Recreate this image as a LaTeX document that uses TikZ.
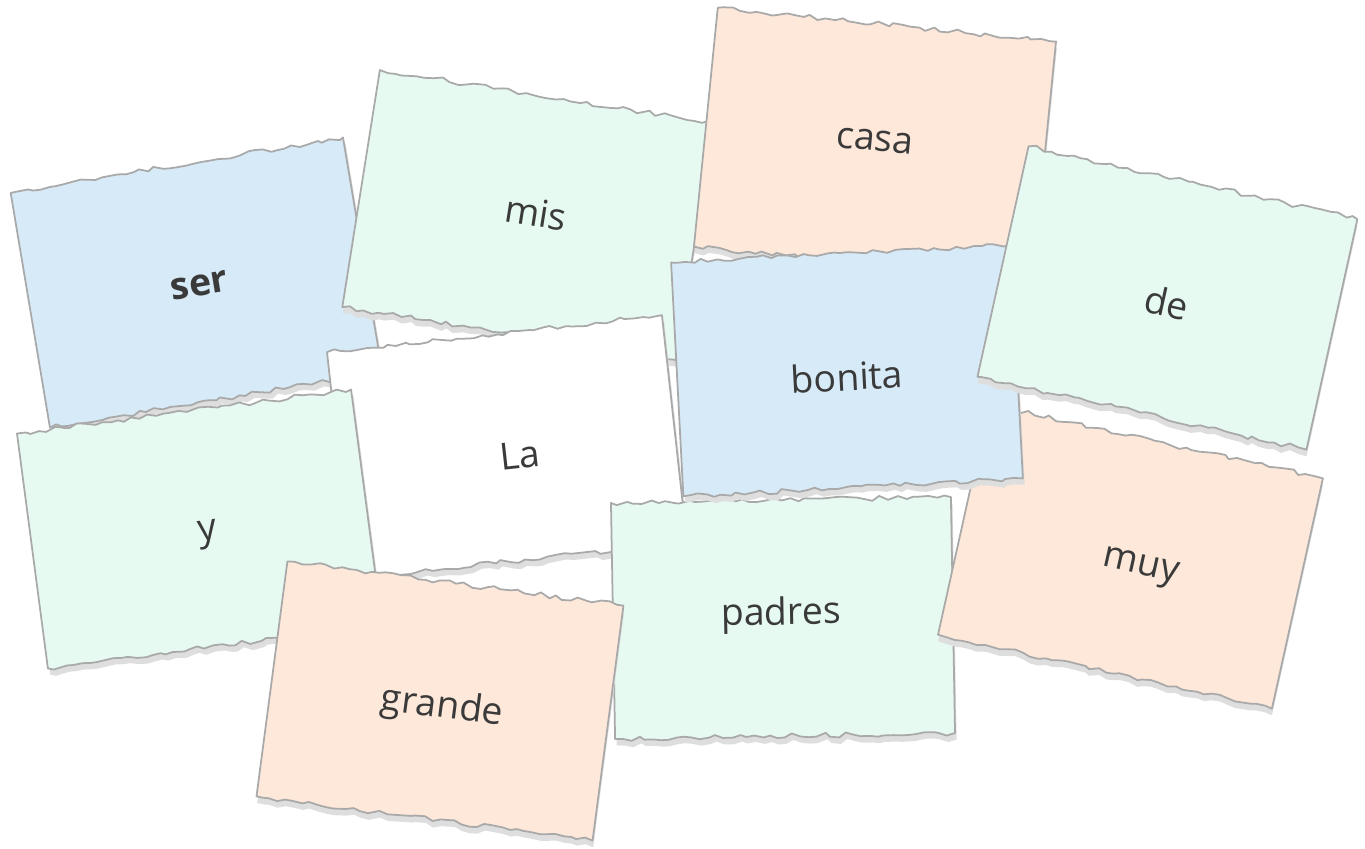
\documentclass[tikz,border=0pt]{standalone}
\usepackage{fontspec}
\setmainfont{Open Sans}
\usepackage{tikz}
\usetikzlibrary{decorations.pathmorphing}

\definecolor{cardblue}{HTML}{D6EAF7}
\definecolor{cardgreen}{HTML}{E6FAF2}
\definecolor{cardpeach}{HTML}{FDE8DA}
\definecolor{edgegray}{HTML}{A9A9A9}
\definecolor{inkgray}{HTML}{3A3A3A}

\newcounter{tornseed}
% name, x, y, angle, width, height, fill, word, word shift
\newcommand{\papercard}[9]{%
  \stepcounter{tornseed}%
  \begin{scope}[shift={(#2,#3)}, rotate=#4]
    \pgfmathsetmacro{\hw}{#5/2}
    \pgfmathsetmacro{\hh}{#6/2}
    \pgfmathsetseed{\number\value{tornseed}}
    \fill[cardshadow, shift={(0.015,-0.065)}] (-\hw,-\hh) -- (-\hw,\hh) decorate[torn] {-- (\hw,\hh)} -- (\hw,-\hh) decorate[torn] {-- (-\hw,-\hh)} -- cycle;
    \pgfmathsetseed{\number\value{tornseed}}
    \filldraw[cardedge, fill=#7] (-\hw,-\hh) -- (-\hw,\hh) decorate[torn] {-- (\hw,\hh)} -- (\hw,-\hh) decorate[torn] {-- (-\hw,-\hh)} -- cycle;
  \end{scope}
  \node[cardtext, shift={#9}, rotate=#4] (#1) at (#2,#3) {#8};}

\begin{document}
\begin{tikzpicture}[
    torn/.style={decoration={random steps, segment length=2.2pt, amplitude=0.7pt}},
    cardedge/.style={draw=edgegray, line width=0.5pt, line join=round},
    cardshadow/.style={fill=black!13},
    cardtext/.style={text=inkgray, font=\fontsize{10.65}{12}\selectfont, inner sep=0pt}]
\useasboundingbox (0,0) rectangle (13.65,-8.49);

\papercard{ser}{1.965}{-2.825}{9.5}{3.37}{2.38}{cardblue}{\bfseries ser}{(0.03,-0.03)}
\papercard{mis}{5.28}{-2.15}{-9}{3.38}{2.40}{cardgreen}{mis}{(0.08,0.02)}
\papercard{casa}{8.75}{-1.44}{-5.7}{3.40}{2.40}{cardpeach}{casa}{(0,0.03)}
\papercard{la}{5.07}{-4.47}{6.3}{3.37}{2.28}{white}{La}{(0.13,-0.08)}
\papercard{y}{1.995}{-5.29}{7.5}{3.37}{2.37}{cardgreen}{y}{(0.09,-0.06)}
\papercard{padres}{7.83}{-6.18}{1}{3.40}{2.36}{cardgreen}{padres}{(-0.02,0.03)}
\papercard{grande}{4.40}{-7.01}{-7.5}{3.39}{2.37}{cardpeach}{grande}{(0.02,-0.07)}
\papercard{muy}{11.305}{-5.565}{-12.5}{3.42}{2.36}{cardpeach}{muy}{(0.10,-0.12)}
\papercard{bonita}{8.47}{-3.705}{3}{3.40}{2.34}{cardblue}{bonita}{(0,-0.06)}
\papercard{de}{11.675}{-2.98}{-12.5}{3.37}{2.36}{cardgreen}{de}{(-0.01,-0.05)}
\end{tikzpicture}
\end{document}
